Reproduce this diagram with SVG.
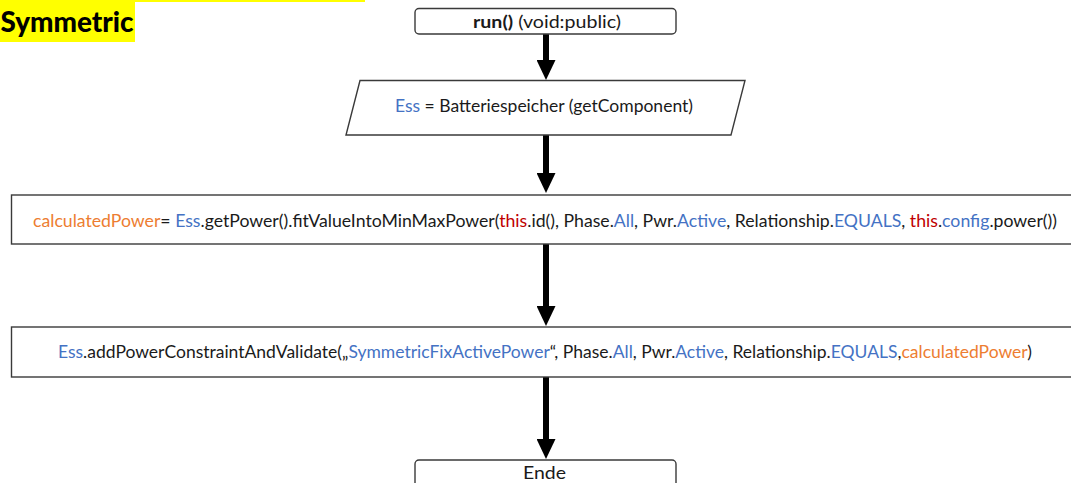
<svg xmlns="http://www.w3.org/2000/svg" width="1071" height="483" viewBox="0 0 1071 483">
  <style>
    text { font-family: Lato, "Open Sans", "Liberation Sans", sans-serif; font-size: 17px; fill: #1a1a1a; }
    .box { fill: #ffffff; stroke: #3a3a3a; stroke-width: 1.4; }
    .flow { stroke: #000000; stroke-width: 6; fill: none; }
    .kw { fill: #4472C4; }
    .var { fill: #ED7D31; }
    .self { fill: #C00000; }
    .title { font-size: 28px; font-weight: 900; fill: #000000; }
  </style>
  <defs>
    <marker id="head" viewBox="0 0 20 19" refX="0" refY="9.5" markerWidth="20" markerHeight="19" markerUnits="userSpaceOnUse" orient="auto">
      <path d="M0,0 L20,9.5 L0,19 Z" fill="#000000"/>
    </marker>
  </defs>

  <rect width="1071" height="483" fill="#ffffff"/>

  <!-- heading label -->
  <g id="heading">
    <rect x="0" y="0" width="365" height="2" fill="#FFFF00"/>
    <rect x="0" y="0" width="135" height="42" fill="#FFFF00"/>
    <text class="title" x="0.5" y="32" textLength="133" lengthAdjust="spacingAndGlyphs">Symmetric</text>
  </g>

  <!-- connectors -->
  <g id="connectors">
    <line class="flow" x1="546" y1="34" x2="546" y2="60" marker-end="url(#head)"/>
    <line class="flow" x1="546" y1="135" x2="546" y2="173" marker-end="url(#head)"/>
    <line class="flow" x1="546" y1="244" x2="546" y2="306" marker-end="url(#head)"/>
    <line class="flow" x1="546" y1="377" x2="546" y2="439" marker-end="url(#head)"/>
  </g>

  <g id="start">
    <rect class="box" x="415" y="8.5" width="261" height="25.5" rx="4"/>
    <text x="473" y="28" textLength="148" lengthAdjust="spacingAndGlyphs"><tspan font-weight="bold">run()</tspan> (void:public)</text>
  </g>

  <g id="get-component">
    <polygon class="box" points="360,80.5 745,80.5 731,135 346,135"/>
    <text x="395" y="112" textLength="298" lengthAdjust="spacingAndGlyphs"><tspan class="kw">Ess</tspan> = Batteriespeicher (getComponent)</text>
  </g>

  <g id="calc-power">
    <rect class="box" x="11.5" y="195" width="1070" height="49"/>
    <text x="33" y="227" textLength="1024" lengthAdjust="spacingAndGlyphs"><tspan class="var">calculatedPower</tspan>= <tspan class="kw">Ess</tspan>.getPower().fitValueIntoMinMaxPower(<tspan class="self">this</tspan>.id(), Phase.<tspan class="kw">All</tspan>, Pwr.<tspan class="kw">Active</tspan>, Relationship.<tspan class="kw">EQUALS</tspan>, <tspan class="self">this</tspan>.<tspan class="kw">config</tspan>.power())</text>
  </g>

  <g id="add-constraint">
    <rect class="box" x="11.5" y="327" width="1070" height="50"/>
    <text x="58" y="358" textLength="974" lengthAdjust="spacingAndGlyphs"><tspan class="kw">Ess</tspan>.addPowerConstraintAndValidate(„<tspan class="kw">SymmetricFixActivePower</tspan>“, Phase.<tspan class="kw">All</tspan>, Pwr.<tspan class="kw">Active</tspan>, Relationship.<tspan class="kw">EQUALS</tspan>,<tspan class="var">calculatedPower</tspan>)</text>
  </g>

  <g id="end">
    <rect class="box" x="415" y="460" width="261" height="40" rx="4"/>
    <text x="523" y="479" textLength="43" lengthAdjust="spacingAndGlyphs">Ende</text>
  </g>
</svg>
